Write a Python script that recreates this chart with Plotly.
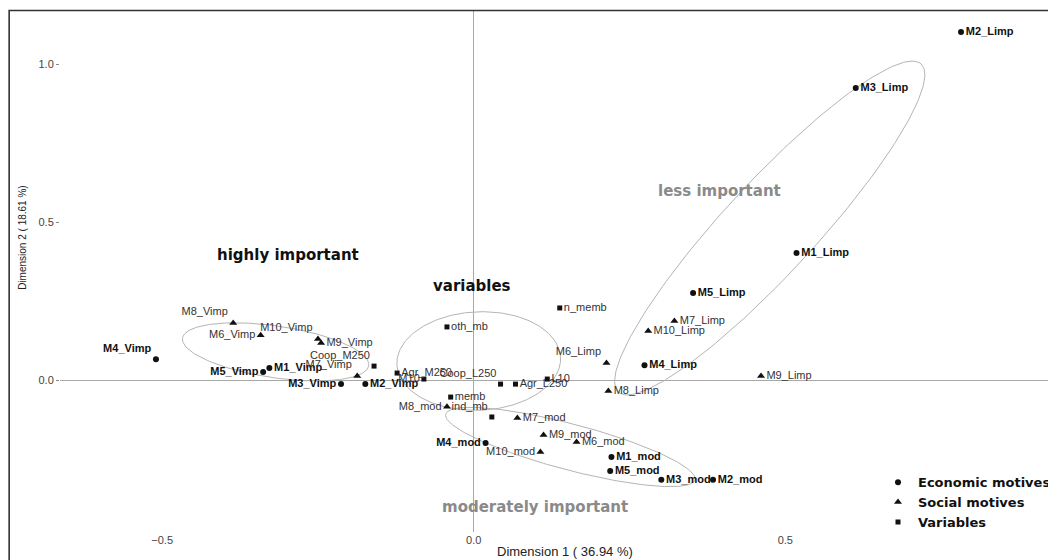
import numpy as np
import plotly.graph_objects as go

# ---- data ----
eco_labels = ["M1_Limp", "M2_Limp", "M3_Limp", "M4_Limp", "M5_Limp",
              "M1_Vimp", "M2_Vimp", "M3_Vimp", "M4_Vimp", "M5_Vimp",
              "M1_mod", "M2_mod", "M3_mod", "M4_mod", "M5_mod"]
eco_x = [0.518, 0.782, 0.613, 0.274, 0.352,
         -0.328, -0.174, -0.213, -0.510, -0.338,
         0.221, 0.384, 0.301, 0.019, 0.219]
eco_y = [0.402, 1.101, 0.924, 0.047, 0.275,
         0.038, -0.013, -0.013, 0.066, 0.025,
         -0.244, -0.316, -0.316, -0.199, -0.288]
eco_pos = ["middle right", "middle right", "middle right", "middle right", "middle right",
           "middle right", "middle right", "middle left", "top left", "middle left",
           "middle right", "middle right", "middle right", "middle left", "middle right"]

soc_labels = ["M6_Limp", "M7_Limp", "M8_Limp", "M9_Limp", "M10_Limp",
              "M6_Vimp", "M7_Vimp", "M8_Vimp", "M9_Vimp", "M10_Vimp",
              "M6_mod", "M7_mod", "M8_mod", "M9_mod", "M10_mod"]
soc_x = [0.213, 0.322, 0.216, 0.461, 0.280,
         -0.342, -0.187, -0.386, -0.245, -0.250,
         0.165, 0.070, -0.043, 0.112, 0.107]
soc_y = [0.054, 0.187, -0.035, 0.013, 0.155,
         0.142, 0.013, 0.180, 0.117, 0.130,
         -0.196, -0.120, -0.085, -0.174, -0.228]
soc_pos = ["top left", "middle right", "middle right", "middle right", "middle right",
           "middle left", "top left", "top left", "middle right", "top left",
           "middle right", "middle right", "middle left", "middle right", "middle left"]

var_labels = ["n_memb", "oth_mb", "Agr_M250", "M10", "Coop_M250",
              "Coop_L250", "Agr_L250", "L10", "memb", "ind_mb"]
var_x = [0.138, -0.043, -0.123, -0.080, -0.160, 0.043, 0.067, 0.118, -0.037, 0.029]
var_y = [0.228, 0.168, 0.022, 0.003, 0.044, -0.013, -0.013, 0.003, -0.054, -0.117]
var_pos = ["middle right", "middle right", "middle right", "middle left", "top left",
           "top left", "middle right", "middle right", "middle right", "top left"]

# confidence ellipses: centre, first and second conjugate half-axes (data units)
ell_center = [(0.475, 0.481), (-0.318, 0.089), (0.008, 0.060), (0.155, -0.212)]
ell_axis_a = [(0.243, 0.519), (0.149, -0.047), (0.131, 0.019), (0.200, -0.104)]
ell_axis_b = [(0.054, -0.098), (-0.013, -0.079), (0.010, -0.155), (-0.010, -0.070)]

group_text = ["highly important", "variables", "less important", "moderately important"]
group_x = [-0.298, -0.003, 0.394, 0.098]
group_y = [0.396, 0.297, 0.598, -0.402]
group_col = ["#111111", "#111111", "#8a8a8a", "#8a8a8a"]

x_ticks = [-0.5, 0.0, 0.5]
y_ticks = [0.0, 0.5, 1.0]

# ---- figure ----
fig = go.Figure()

t = np.linspace(0, 2 * np.pi, 200)
for c, a, b in zip(ell_center, ell_axis_a, ell_axis_b):
    ex = c[0] + a[0] * np.cos(t) + b[0] * np.sin(t)
    ey = c[1] + a[1] * np.cos(t) + b[1] * np.sin(t)
    fig.add_trace(go.Scatter(x=ex, y=ey, mode="lines",
                             line=dict(color="#b4b4b4", width=1),
                             showlegend=False, hoverinfo="skip"))

lab_font = "Liberation Sans, Arial, sans-serif"
fig.add_trace(go.Scatter(
    x=eco_x, y=eco_y, text=eco_labels, mode="markers+text",
    textposition=eco_pos, name="Economic motives",
    marker=dict(symbol="circle", size=6, color="#111111"),
    textfont=dict(family=lab_font, size=11, color="#111111", weight="bold")))
fig.add_trace(go.Scatter(
    x=soc_x, y=soc_y, text=soc_labels, mode="markers+text",
    textposition=soc_pos, name="Social motives",
    marker=dict(symbol="triangle-up", size=7, color="#111111"),
    textfont=dict(family=lab_font, size=11, color="#333333")))
fig.add_trace(go.Scatter(
    x=var_x, y=var_y, text=var_labels, mode="markers+text",
    textposition=var_pos, name="Variables",
    marker=dict(symbol="square", size=5, color="#111111"),
    textfont=dict(family=lab_font, size=11, color="#333333")))

for txt, gx, gy, col in zip(group_text, group_x, group_y, group_col):
    fig.add_annotation(x=gx, y=gy, text=txt, showarrow=False,
                       xanchor="center", yanchor="middle",
                       font=dict(family="DejaVu Sans", size=15, color=col, weight="bold"))

fig.add_annotation(xref="paper", yref="paper", x=0.509, y=-0.0364,
                   xanchor="center", yanchor="middle",
                   text="Dimension 1 ( 36.94 %)", showarrow=False,
                   font=dict(family=lab_font, size=13, color="#222222"))
fig.add_annotation(xref="paper", yref="paper", x=-0.0385, y=0.565,
                   xanchor="center", yanchor="middle",
                   text="Dimension 2 ( 18.61 %)", showarrow=False, textangle=-90,
                   font=dict(family=lab_font, size=10, color="#222222"))

# outer frame
fig.add_shape(type="rect", xref="paper", yref="paper",
              x0=-0.0512, x1=1.02, y0=-0.06, y1=0.999,
              line=dict(color="#333333", width=1.6))

fig.update_layout(
    width=1048, height=552,
    margin=dict(l=52, r=0, t=2, b=28),
    paper_bgcolor="white", plot_bgcolor="white",
    showlegend=True,
    legend=dict(x=0.824, y=0.124, xanchor="left", yanchor="top",
                bgcolor="rgba(0,0,0,0)", itemwidth=30,
                font=dict(family="DejaVu Sans", size=13, color="#111111", weight="bold")),
    xaxis=dict(range=[-0.664, 0.9296], tickvals=x_ticks, ticktext=["\u22120.5", "0.0", "0.5"],
               showgrid=False, zeroline=True, zerolinecolor="#a8a8a8", zerolinewidth=1,
               showline=False, ticks="",
               tickfont=dict(family=lab_font, size=11, color="#444444")),
    yaxis=dict(range=[-0.481, 1.1709], tickvals=y_ticks, ticktext=["0.0", "0.5", "1.0"],
               showgrid=False, zeroline=True, zerolinecolor="#a8a8a8", zerolinewidth=1,
               showline=False, ticks="outside", ticklen=3, tickcolor="#888888",
               tickfont=dict(family=lab_font, size=11, color="#444444")),
)

fig.write_html("out.html")
